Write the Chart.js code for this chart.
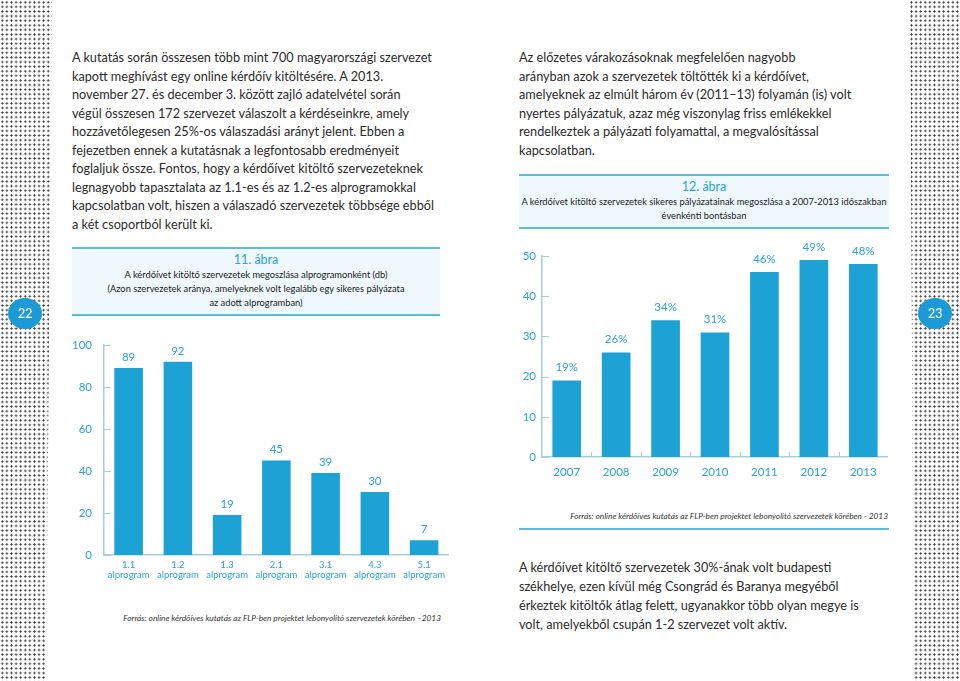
<!DOCTYPE html>
<html>
<head>
<meta charset="utf-8">
<script src="https://cdn.jsdelivr.net/npm/chart.js@4.4.0/dist/chart.umd.min.js"></script>
<style>
  body { margin: 0; width: 960px; height: 681px; position: relative; overflow: hidden; background: #fff;
         font-family: Lato, "Noto Sans", sans-serif; color: #2b2b2b; }
  .dots { position: absolute; top: 0; height: 681px; width: 60px;
          background-image: radial-gradient(circle, #3a3a3a 0.85px, transparent 1.25px);
          background-size: 4.6px 4.6px; }
  #dots-left { left: 0; clip-path: polygon(0 0, 52px 0, 46px 100%, 0 100%); }
  #dots-right { left: 900px; clip-path: polygon(10px 0, 60px 0, 60px 100%, 14px 100%); }
  .pagenum { position: absolute; width: 34px; height: 31px; border-radius: 50%; background: #1b9ad6;
             color: #fff; font-size: 12.5px; line-height: 31px; text-align: center; }
  .para { position: absolute; font-size: 12.7px; line-height: 18.5px; white-space: nowrap; color: #2b2b2b; }
  .fig-head { position: absolute; background: #eff8fc; border-top: 2px solid #5cbfd6; border-bottom: 2px solid #5cbfd6;
              text-align: center; }
  .fig-num { color: #2aa5d4; font-size: 12.5px; }
  .fig-sub { font-size: 9.3px; color: #1a1a1a; white-space: nowrap; }
  .source { position: absolute; font-size: 8.3px; font-style: italic; color: #333; white-space: nowrap; text-align: right; }
  canvas { position: absolute; }
</style>
</head>
<body>
<div class="dots" id="dots-left"></div>
<div class="dots" id="dots-right"></div>
<div class="pagenum" style="left:8px; top:298px;">22</div>
<div class="pagenum" style="left:918px; top:298px;">23</div>

<div class="para" style="left:72px; top:48px;">
A kutatás során összesen több mint 700 magyarországi szervezet<br>
kapott meghívást egy online kérdőív kitöltésére. A 2013.<br>
november 27. és december 3. között zajló adatelvétel során<br>
végül összesen 172 szervezet válaszolt a kérdéseinkre, amely<br>
hozzávetőlegesen 25%-os válaszadási arányt jelent. Ebben a<br>
fejezetben ennek a kutatásnak a legfontosabb eredményeit<br>
foglaljuk össze. Fontos, hogy a kérdőívet kitöltő szervezeteknek<br>
legnagyobb tapasztalata az 1.1-es és az 1.2-es alprogramokkal<br>
kapcsolatban volt, hiszen a válaszadó szervezetek többsége ebből<br>
a két csoportból került ki.
</div>

<div class="para" style="left:519px; top:48px;">
Az előzetes várakozásoknak megfelelően nagyobb<br>
arányban azok a szervezetek töltötték ki a kérdőívet,<br>
amelyeknek az elmúlt három év (2011–13) folyamán (is) volt<br>
nyertes pályázatuk, azaz még viszonylag friss emlékekkel<br>
rendelkeztek a pályázati folyamattal, a megvalósítással<br>
kapcsolatban.
</div>

<div class="para" style="left:519px; top:558px; line-height:19px;">
A kérdőívet kitöltő szervezetek 30%-ának volt budapesti<br>
székhelye, ezen kívül még Csongrád és Baranya megyéből<br>
érkeztek kitöltők átlag felett, ugyanakkor több olyan megye is<br>
volt, amelyekből csupán 1-2 szervezet volt aktív.
</div>

<div class="fig-head" style="left:72px; top:247px; width:368px; height:65px;">
  <div class="fig-num" style="margin-top:3px; line-height:16px;">11. ábra</div>
  <div class="fig-sub" style="line-height:14px;">A kérdőívet kitöltő szervezetek megoszlása alprogramonként (db)<br>(Azon szervezetek aránya, amelyeknek volt legalább egy sikeres pályázata<br>az adott alprogramban)</div>
</div>

<div class="fig-head" style="left:519px; top:174px; width:370px; height:51px;">
  <div class="fig-num" style="margin-top:3px; line-height:16px;">12. ábra</div>
  <div class="fig-sub" style="line-height:14px;">A kérdőívet kitöltő szervezetek sikeres pályázatainak megoszlása a 2007-2013 időszakban<br>évenkénti bontásban</div>
</div>

<canvas id="chart-programs" style="left:60px; top:320px;" width="389" height="270"></canvas>
<canvas id="chart-years" style="left:505px; top:235px;" width="383" height="255"></canvas>

<div class="source" style="right:519px; top:613px;">Forrás: online kérdőíves kutatás az FLP-ben projektet lebonyolító szervezetek körében –2013</div>
<div class="source" style="right:72px; top:511px;">Forrás: online kérdőíves kutatás az FLP-ben projektet lebonyolító szervezetek körében - 2013</div>
<div style="position:absolute; left:519px; top:528px; width:370px; height:2px; background:#5cbfd6;"></div>

<script>
// Data
const programLabels = [['1.1', 'alprogram'], ['1.2', 'alprogram'], ['1.3', 'alprogram'], ['2.1', 'alprogram'],
                       ['3.1', 'alprogram'], ['4.3', 'alprogram'], ['5.1', 'alprogram']];
const programCounts = [89, 92, 19, 45, 39, 30, 7];
const programTicks = [0, 20, 40, 60, 80, 100];

const years = ['2007', '2008', '2009', '2010', '2011', '2012', '2013'];
const yearShares = [19, 26, 34, 31, 46, 49, 48];
const shareTicks = [0, 10, 20, 30, 40, 50];

const BAR = '#1da2d6';
const BLUE_TEXT = '#2aa3d3';
const AXIS = '#a3d0dc';
const FONT = 'Lato, "Noto Sans", sans-serif';

// value labels above bars + small tick stubs on the axes
const barDecor = {
    id: 'barDecor',
    afterDatasetsDraw(chart, args, opts) {
        const { ctx, chartArea, scales: { x, y } } = chart;
        const meta = chart.getDatasetMeta(0);
        const data = chart.data.datasets[0].data;
        ctx.save();
        ctx.font = `${opts.size}px ${FONT}`;
        ctx.fillStyle = BLUE_TEXT;
        ctx.textAlign = 'center';
        ctx.textBaseline = 'middle';
        meta.data.forEach((bar, i) => {
            ctx.fillText(data[i] + opts.suffix, bar.x, bar.y - opts.gap);
        });

        ctx.strokeStyle = AXIS;
        ctx.lineWidth = 1;
        y.ticks.forEach(t => {
            const py = Math.round(y.getPixelForValue(t.value)) + 0.5;
            ctx.beginPath();
            ctx.moveTo(chartArea.left, py);
            ctx.lineTo(chartArea.left + 7, py);
            ctx.stroke();
        });
        const bounds = opts.xStubs ? data.map((_, i) => i + 0.5) : [data.length - 0.5];
        bounds.forEach(v => {
            const px = Math.round(x.getPixelForValue(v)) + 0.5;
            ctx.beginPath();
            ctx.moveTo(px, chartArea.bottom);
            ctx.lineTo(px, chartArea.bottom - 5);
            ctx.stroke();
        });
        ctx.restore();
    }
};

function makeChart(id, labels, values, ticks, o) {
    return new Chart(document.getElementById(id), {
        type: 'bar',
        data: {
            labels: labels,
            datasets: [{ data: values, backgroundColor: BAR, barPercentage: 0.58, categoryPercentage: 1 }]
        },
        options: {
            responsive: false,
            animation: false,
            layout: { padding: { top: o.padTop, right: 0, bottom: 0, left: 0 } },
            plugins: {
                legend: { display: false },
                tooltip: { enabled: false },
                barDecor: { size: 11.5, suffix: o.suffix, gap: o.gap, xStubs: o.xStubs }
            },
            scales: {
                x: {
                    grid: { display: false, drawTicks: false },
                    border: { display: true, color: AXIS, width: 1.5 },
                    ticks: { color: BLUE_TEXT, padding: o.xPad, maxRotation: 0, minRotation: 0, autoSkip: false,
                             font: { family: FONT, size: o.xSize, lineHeight: 1.15 } },
                    afterFit(scale) { scale.height = o.xHeight; }
                },
                y: {
                    min: ticks[0],
                    max: ticks[ticks.length - 1],
                    afterBuildTicks(scale) { scale.ticks = ticks.map(v => ({ value: v })); },
                    grid: { display: false, drawTicks: false },
                    border: { display: true, color: AXIS, width: 1.5 },
                    ticks: { color: BLUE_TEXT, padding: o.yPad, font: { family: FONT, size: 11.5 } },
                    afterFit(scale) { scale.width = o.yWidth; }
                }
            }
        },
        plugins: [barDecor]
    });
}

makeChart('chart-programs', programLabels, programCounts, programTicks,
    { padTop: 25, xHeight: 35, yWidth: 44, yPad: 12, xPad: 4, xSize: 9.5, suffix: '', gap: 11, xStubs: false });
makeChart('chart-years', years, yearShares, shareTicks,
    { padTop: 21, xHeight: 33, yWidth: 37, yPad: 6, xPad: 9, xSize: 11.5, suffix: '%', gap: 13, xStubs: true });
</script>
</body>
</html>
